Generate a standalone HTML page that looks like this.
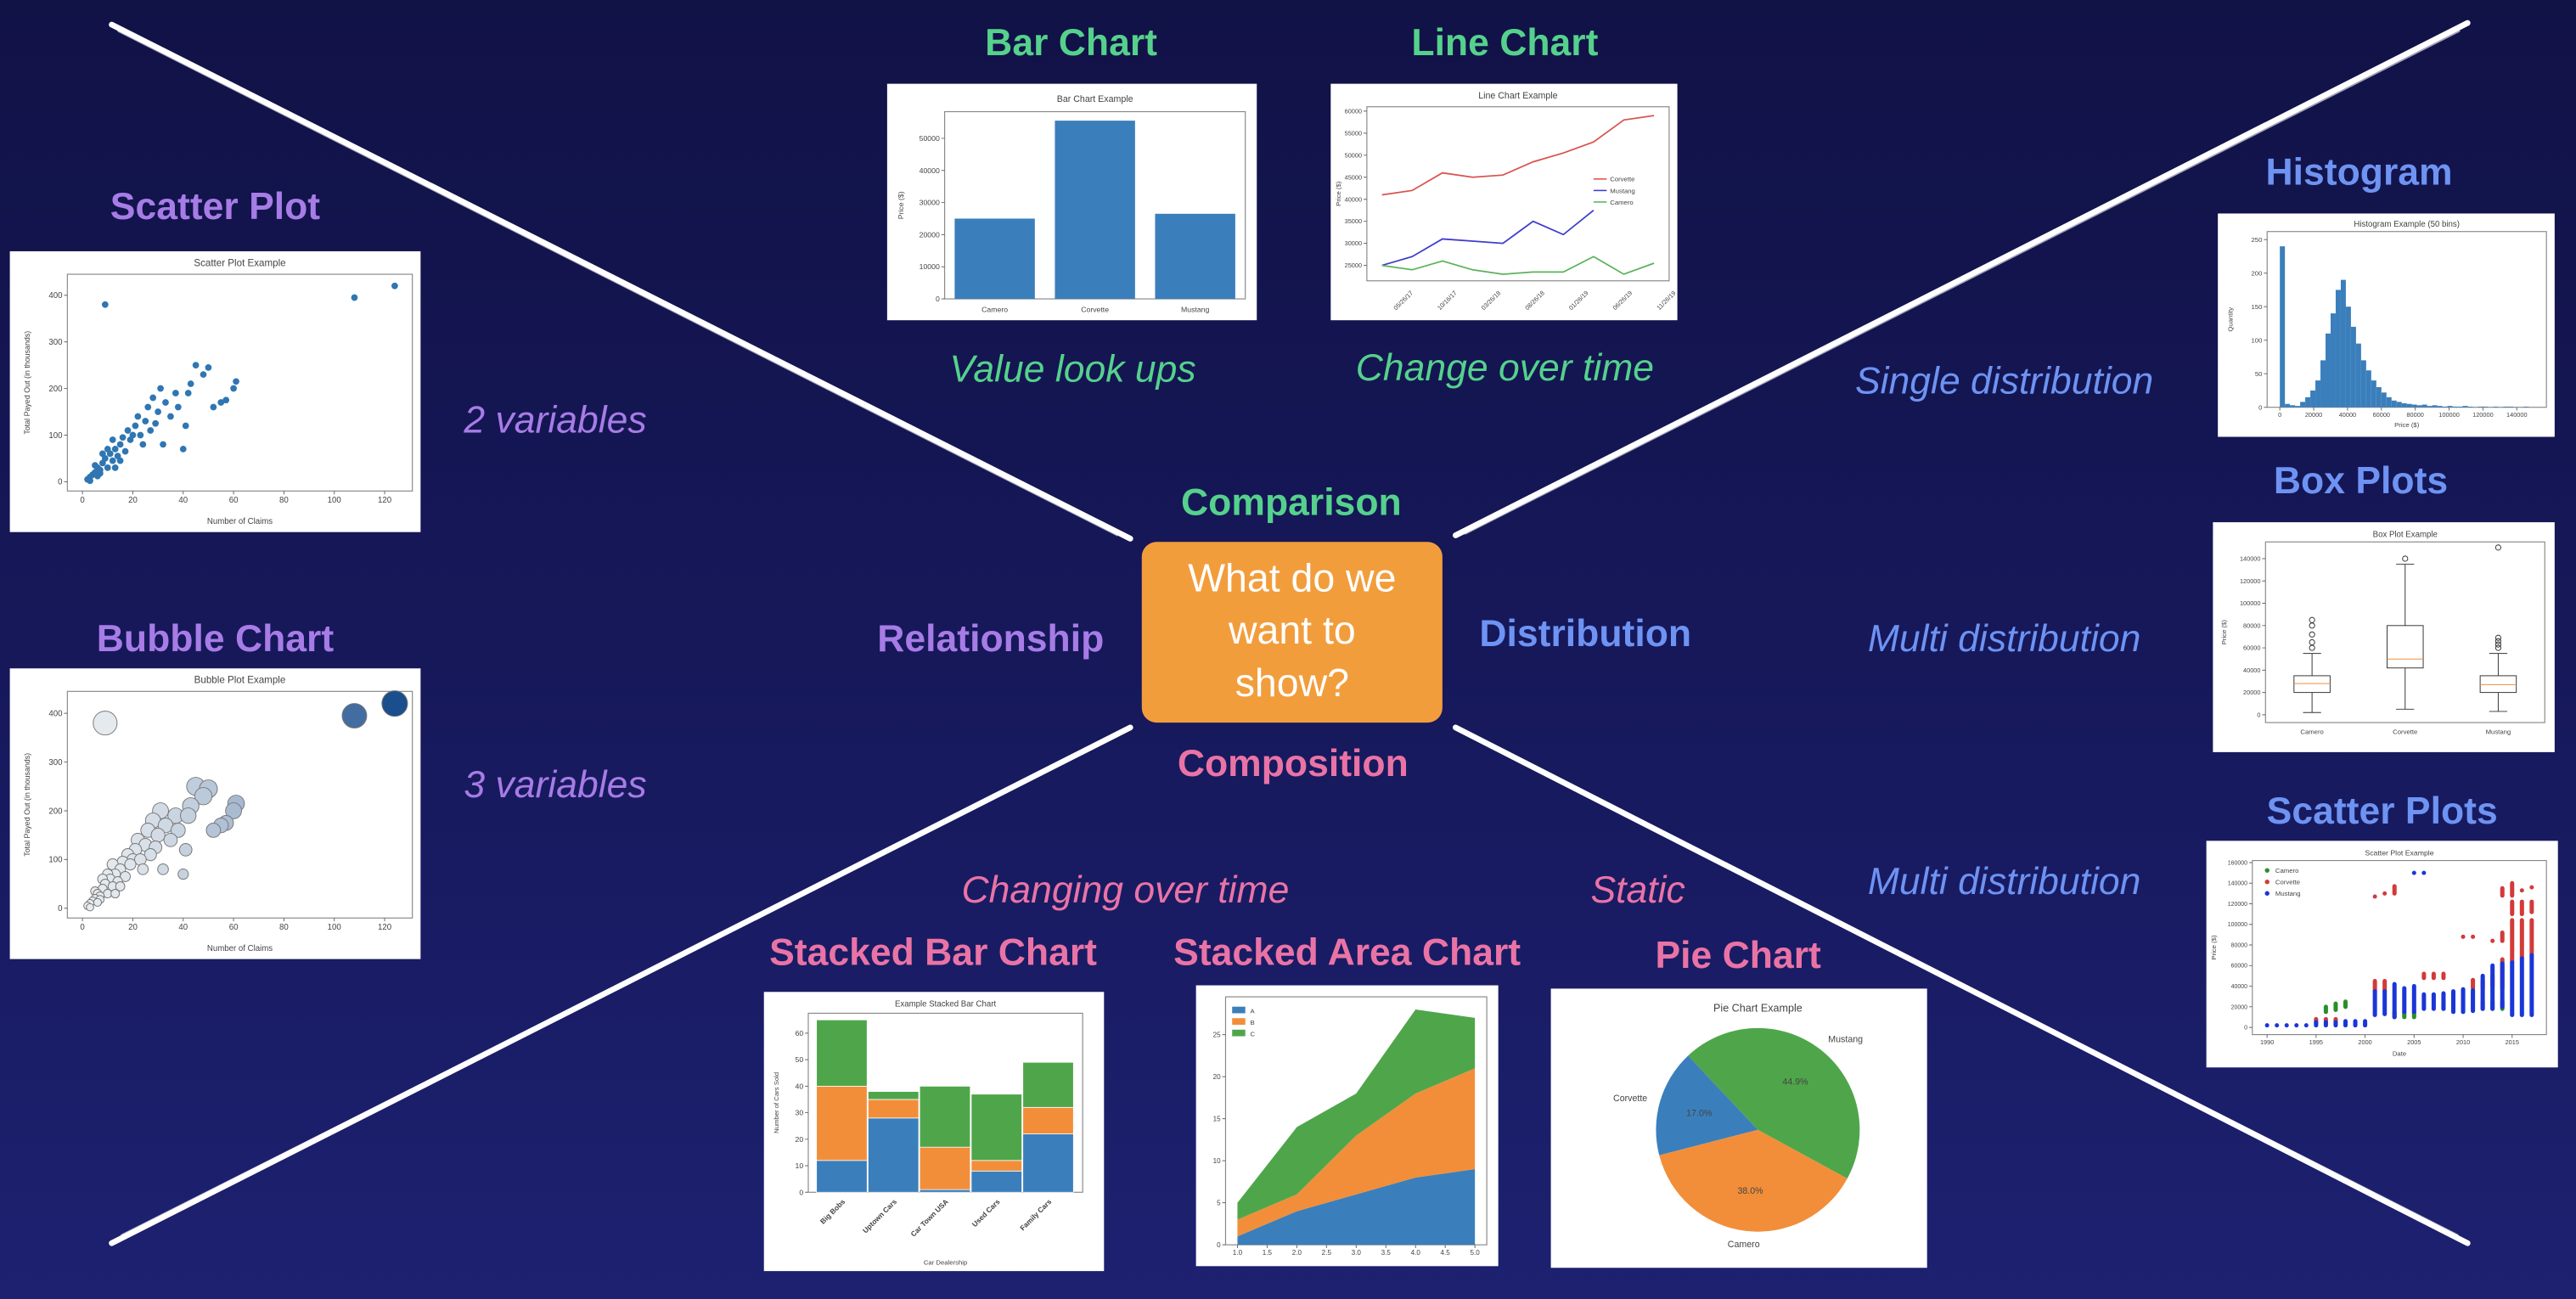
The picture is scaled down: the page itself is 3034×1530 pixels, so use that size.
<!DOCTYPE html>
<html><head><meta charset="utf-8">
<style>
html,body{margin:0;padding:0;}
body{width:3034px;height:1530px;overflow:hidden;background:#15175a;}
#stage{position:absolute;left:0;top:0;width:1568px;height:791px;transform:scale(1.93495,1.93426);transform-origin:0 0;
background:linear-gradient(180deg,#111246 0%,#16185a 50%,#1d2170 100%);font-family:"Liberation Sans",sans-serif;overflow:hidden;}
.t{position:absolute;transform:translate(-50%,-50%);white-space:nowrap;}
.h{font-weight:bold;font-size:23px;}
.i{font-style:italic;font-size:23px;}
.g{color:#55d18c}.p{color:#a77ce6}.b{color:#6e93f2}.k{color:#ea73a6}
.box{position:absolute;background:#fff;}
.box svg{display:block;width:100%;height:100%;}
#center{position:absolute;left:695px;top:330px;width:183px;height:110px;background:#f29d3c;border-radius:9px;color:#fff;font-size:24px;text-align:center;line-height:32px;display:flex;align-items:center;justify-content:center;}
</style></head><body>
<div id="stage">
<svg id="strokes" width="1568" height="791" style="position:absolute;left:0;top:0">
 <g stroke="#fff" stroke-linecap="round">
  <line x1="68" y1="15" x2="688" y2="328" stroke-width="3.5"/>
  <line x1="72" y1="19" x2="680" y2="326" stroke-width="1" opacity=".6"/>
  <line x1="1502" y1="14" x2="886" y2="326" stroke-width="3.5"/>
  <line x1="1497" y1="19" x2="892" y2="325" stroke-width="1" opacity=".6"/>
  <line x1="68" y1="757" x2="688" y2="443" stroke-width="3.5"/>
  <line x1="74" y1="752" x2="682" y2="446" stroke-width="1" opacity=".6"/>
  <line x1="1502" y1="757" x2="886" y2="443" stroke-width="3.5"/>
  <line x1="1496" y1="752" x2="892" y2="446" stroke-width="1" opacity=".6"/>
 </g>
</svg>

<div id="center">What do we<br>want to<br>show?</div>
<div class="t h g" style="left:786px;top:306px">Comparison</div>
<div class="t h p" style="left:603px;top:389px">Relationship</div>
<div class="t h b" style="left:965px;top:386px">Distribution</div>
<div class="t h k" style="left:787px;top:465px">Composition</div>

<div class="t h g" style="left:652px;top:26px">Bar Chart</div>
<div class="t h g" style="left:916px;top:26px">Line Chart</div>
<div class="t h p" style="left:131px;top:126px">Scatter Plot</div>
<div class="t h p" style="left:131px;top:389px">Bubble Chart</div>
<div class="t h b" style="left:1436px;top:105px">Histogram</div>
<div class="t h b" style="left:1437px;top:293px">Box Plots</div>
<div class="t h b" style="left:1450px;top:494px">Scatter Plots</div>
<div class="t h k" style="left:568px;top:580px">Stacked Bar Chart</div>
<div class="t h k" style="left:820px;top:580px">Stacked Area Chart</div>
<div class="t h k" style="left:1058px;top:582px">Pie Chart</div>

<div class="t i g" style="left:653px;top:225px">Value look ups</div>
<div class="t i g" style="left:916px;top:224px">Change over time</div>
<div class="t i p" style="left:338px;top:256px">2 variables</div>
<div class="t i p" style="left:338px;top:478px">3 variables</div>
<div class="t i b" style="left:1220px;top:232px">Single distribution</div>
<div class="t i b" style="left:1220px;top:389px">Multi distribution</div>
<div class="t i b" style="left:1220px;top:537px">Multi distribution</div>
<div class="t i k" style="left:685px;top:542px">Changing over time</div>
<div class="t i k" style="left:997px;top:542px">Static</div>

<div class="box" style="left:540px;top:51px;width:225px;height:144px"><svg id="cBar" viewBox="0 0 225 144"></svg></div>
<div class="box" style="left:810px;top:51px;width:211px;height:144px"><svg id="cLine" viewBox="0 0 211 144"></svg></div>
<div class="box" style="left:6px;top:153px;width:250px;height:171px"><svg id="cScat" viewBox="0 0 250 171"></svg></div>
<div class="box" style="left:6px;top:407px;width:250px;height:177px"><svg id="cBub" viewBox="0 0 250 177"></svg></div>
<div class="box" style="left:1350px;top:130px;width:205px;height:136px"><svg id="cHist" viewBox="0 0 205 136"></svg></div>
<div class="box" style="left:1347px;top:318px;width:208px;height:140px"><svg id="cBox" viewBox="0 0 208 140"></svg></div>
<div class="box" style="left:1343px;top:512px;width:214px;height:138px"><svg id="cMS" viewBox="0 0 214 138"></svg></div>
<div class="box" style="left:465px;top:604px;width:207px;height:170px"><svg id="cSB" viewBox="0 0 207 170"></svg></div>
<div class="box" style="left:728px;top:600px;width:184px;height:171px"><svg id="cSA" viewBox="0 0 184 171"></svg></div>
<div class="box" style="left:944px;top:602px;width:229px;height:170px"><svg id="cPie" viewBox="0 0 229 170"></svg></div>
</div>

<script>
// ---------- data ----------
const barCats=['Camero','Corvette','Mustang'];
const barVals=[25000,55500,26500];
const barTicks=[0,10000,20000,30000,40000,50000];

const lineDates=['05/26/17','10/16/17','03/26/18','08/26/18','01/26/19','06/26/19','11/26/19'];
const lineCorvette=[41000,42000,46000,45000,45500,48500,50500,53000,58000,59000];
const lineMustang=[25000,27000,31000,30500,30000,35000,32000,37500];
const lineCamero=[25000,24000,26000,24000,23000,23500,23500,27000,23000,25500];
const lineTicks=[25000,30000,35000,40000,45000,50000,55000,60000];

const scatX=[2,3,4,5,6,7,8,9,10,11,12,13,14,15,5,8,10,12,13,15,16,18,20,21,22,24,25,26,27,28,30,31,33,35,37,40,41,43,45,48,50,52,55,57,60,61,9,108,124,3,6,7,17,19,23,29,32,38,42];
const scatY=[5,10,15,20,30,25,40,50,30,60,45,70,55,80,35,60,70,90,30,45,95,110,100,120,140,80,130,160,110,180,150,200,170,140,190,70,120,210,250,230,245,160,170,175,200,215,380,395,420,2,12,18,65,90,100,125,80,160,190];
const scatXTicks=[0,20,40,60,80,100,120];
const scatYTicks=[0,100,200,300,400];

const histCounts=[240,5,3,2,8,15,25,40,70,110,140,175,190,150,120,95,70,55,40,30,22,15,10,8,6,5,4,3,4,2,3,2,1,2,1,1,2,1,0,1,1,0,1,0,1,1,0,0,1,0];
const histTicks=[0,20000,40000,60000,80000,100000,120000,140000];
const histYTicks=[0,50,100,150,200,250];

const boxCats=['Camero','Corvette','Mustang'];
const boxMin=[2000,5000,3000];
const boxQ1=[20000,42000,20000];
const boxMed=[28000,50000,27000];
const boxQ3=[35000,80000,35000];
const boxMax=[55000,135000,55000];
const boxOut=[[60000,65000,72000,80000,85000],[140000],[60000,63000,66000,69000,150000]];
const boxTicks=[0,20000,40000,60000,80000,100000,120000,140000];

const msCamero=[[1996,15000,20000],[1997,17000,23000],[1998,20000,25000],[2003,10000,15000],[2004,10000,15000],[2005,10000,15000],[2008,18000,22000],[2012,18000,25000],[2013,18000,25000],[2014,18000,25000],[2014,38000,45000]];
const msCorvette=[[1995,5000,8000],[1996,5000,8000],[1997,5000,8000],[2001,35000,45000],[2001,127000,127000],[2002,35000,45000],[2002,130000,130000],[2003,130000,137000],[2006,48000,52000],[2007,48000,52000],[2008,48000,52000],[2010,88000,88000],[2011,88000,88000],[2011,38000,46000],[2012,38000,45000],[2013,40000,50000],[2013,84000,84000],[2014,45000,66000],[2014,84000,92000],[2014,128000,135000],[2015,63000,104000],[2015,110000,122000],[2015,128000,140000],[2016,67000,104000],[2016,110000,122000],[2016,133000,133000],[2017,70000,104000],[2017,112000,122000],[2017,136000,136000]];
const msMustang=[[1990,2000,2000],[1991,2000,2000],[1992,2000,2000],[1993,2000,2000],[1994,2000,2000],[1995,2000,5000],[1996,2000,5000],[1997,2000,5000],[1998,2000,6000],[1999,2000,6000],[2000,2000,6000],[2001,12000,35000],[2002,13000,35000],[2003,10000,42000],[2004,15000,38000],[2005,15000,40000],[2005,150000,150000],[2006,150000,150000],[2006,18000,32000],[2007,18000,32000],[2008,18000,33000],[2009,15000,35000],[2010,15000,37000],[2011,16000,36000],[2012,18000,50000],[2013,18000,60000],[2014,20000,62000],[2015,12000,63000],[2016,12000,67000],[2017,12000,70000]];
const msXTicks=[1990,1995,2000,2005,2010,2015];
const msYTicks=[0,20000,40000,60000,80000,100000,120000,140000,160000];

const sbCats=['Big Bobs','Uptown Cars','Car Town USA','Used Cars','Family Cars'];
const sbA=[12,28,1,8,22];
const sbB=[28,7,16,4,10];
const sbC=[25,3,23,25,17];
const sbTicks=[0,10,20,30,40,50,60];

const saX=[1,2,3,4,5];
const saA=[1,4,6,8,9];
const saB=[2,2,7,10,12];
const saC=[2,8,5,10,6];
const saXTicks=[1.0,1.5,2.0,2.5,3.0,3.5,4.0,4.5,5.0];
const saYTicks=[0,5,10,15,20,25];

const pieLabels=['Mustang','Corvette','Camero'];
const pieVals=[44.9,17.0,38.0];

// ---------- helpers ----------
const NS='http://www.w3.org/2000/svg';
const BLUE='#3a7fbb',ORANGE='#f28e3a',GREEN='#4fa64a',AX='#666',TX='#444';
function el(tag,parent,attrs){const e=document.createElementNS(NS,tag);for(const k in attrs)e.setAttribute(k,attrs[k]);parent.appendChild(e);return e;}
function lin(d0,d1,r0,r1){return v=>r0+(v-d0)/(d1-d0)*(r1-r0);}
function txt(p,x,y,s,size,anchor,extra){const t=el('text',p,Object.assign({x:x,y:y,'font-size':size,'text-anchor':anchor||'middle',fill:TX,'font-family':'Liberation Sans, sans-serif'},extra||{}));t.textContent=s;return t;}
function frame(p,x0,y0,x1,y1){el('rect',p,{x:x0,y:y0,width:x1-x0,height:y1-y0,fill:'none',stroke:'#888','stroke-width':0.6});}
function yTicks(p,ticks,ys,x0,size,fmt){ticks.forEach(v=>{el('line',p,{x1:x0-2,x2:x0,y1:ys(v),y2:ys(v),stroke:AX,'stroke-width':0.5});txt(p,x0-3,ys(v)+size*0.35,fmt?fmt(v):String(v),size,'end');});}
function xTicks(p,ticks,xs,y0,size,fmt){ticks.forEach(v=>{el('line',p,{x1:xs(v),x2:xs(v),y1:y0,y2:y0+2,stroke:AX,'stroke-width':0.5});txt(p,xs(v),y0+2+size,fmt?fmt(v):String(v),size);});}

// ---------- bar chart ----------
(function(){const s=document.getElementById('cBar');
const x0=35,x1=218,y0=17,y1=131;const ys=lin(0,58300,y1,y0);const bw=(x1-x0)/barCats.length;
txt(s,(x0+x1)/2,11,'Bar Chart Example',5.5);frame(s,x0,y0,x1,y1);yTicks(s,barTicks,ys,x0,4.5);
txt(s,10,(y0+y1)/2,'Price ($)',4.5,'middle',{transform:`rotate(-90 10 ${(y0+y1)/2})`});
barCats.forEach((c,i)=>{const cx=x0+bw*(i+0.5);const r=el('rect',s,{x:cx-bw*0.4,y:ys(barVals[i]),width:bw*0.8,height:y1-ys(barVals[i]),fill:BLUE});


txt(s,cx,y1+8,c,4.5);});})();

// ---------- line chart ----------
(function(){const s=document.getElementById('cLine');
const x0=22,x1=206,y0=14,y1=120;const ys=lin(21500,61000,y1,y0);const xs=lin(-0.5,9.5,x0,x1);
txt(s,(x0+x1)/2,9,'Line Chart Example',5.5);frame(s,x0,y0,x1,y1);yTicks(s,lineTicks,ys,x0,3.8);
txt(s,6,(y0+y1)/2,'Price ($)',4,'middle',{transform:`rotate(-90 6 ${(y0+y1)/2})`});
lineDates.forEach((d,i)=>{const x=xs(0.6+i*1.45);txt(s,x,y1+14,d,3.8,'middle',{transform:`rotate(-45 ${x} ${y1+10})`});});
[[lineCorvette,'#d9534f','Corvette'],[lineMustang,'#3d3dcc','Mustang'],[lineCamero,'#5bb35b','Camero']].forEach(([arr,col,n],k)=>{
const pl=el('polyline',s,{points:arr.map((v,i)=>xs(i)+','+ys(v)).join(' '),fill:'none',stroke:col,'stroke-width':0.9});


el('line',s,{x1:160,x2:168,y1:58+k*7,y2:58+k*7,stroke:col,'stroke-width':0.8});txt(s,170,59.5+k*7,n,4,'start');});})();

// ---------- scatter ----------
function scatterAxes(s,h,title){const x0=35,x1=245,y0=14,y1=h-25;const xs=lin(-6,131,x0,x1),ys=lin(-20,445,y1,y0);
txt(s,(x0+x1)/2,9,title,6);frame(s,x0,y0,x1,y1);yTicks(s,scatYTicks,ys,x0,5);xTicks(s,scatXTicks,xs,y1,5);
txt(s,(x0+x1)/2,h-5,'Number of Claims',5);txt(s,12,(y0+y1)/2,'Total Payed Out (in thousands)',4.6,'middle',{transform:`rotate(-90 12 ${(y0+y1)/2})`});return [xs,ys];}
(function(){const s=document.getElementById('cScat');const [xs,ys]=scatterAxes(s,171,'Scatter Plot Example');
scatX.forEach((x,i)=>{const c=el('circle',s,{cx:xs(x),cy:ys(scatY[i]),r:2,fill:'#2f76b2'});

});})();
(function(){const s=document.getElementById('cBub');const [xs,ys]=scatterAxes(s,177,'Bubble Plot Example');
const idx=scatX.map((x,i)=>i).sort((a,b)=>scatY[b]-scatY[a]);
idx.forEach(i=>{const x=scatX[i];const t=Math.pow(Math.min(x/124,1),1.6);
const r0=Math.round(232-t*206),g0=Math.round(236-t*158),b0=Math.round(240-t*100);
const c=el('circle',s,{cx:xs(x),cy:ys(scatY[i]),r:2.2+scatY[i]/75,fill:`rgb(${r0},${g0},${b0})`,stroke:'#777','stroke-width':0.5});

});})();

// ---------- histogram ----------
(function(){const s=document.getElementById('cHist');const x0=30,x1=200,y0=11,y1=118;
const xs=lin(-7500,157500,x0,x1),ys=lin(0,262,y1,y0);
txt(s,(x0+x1)/2,8,'Histogram Example (50 bins)',5);frame(s,x0,y0,x1,y1);yTicks(s,histYTicks,ys,x0,4);xTicks(s,histTicks,xs,y1,3.8);
txt(s,(x0+x1)/2,y1+12,'Price ($)',4);txt(s,9,(y0+y1)/2,'Quantity',4,'middle',{transform:`rotate(-90 9 ${(y0+y1)/2})`});
const bw=3000;histCounts.forEach((c,i)=>{if(!c)return;const r=el('rect',s,{x:xs(i*bw),y:ys(c),width:xs(bw)-xs(0),height:y1-ys(c),fill:BLUE});

});})();

// ---------- box plot ----------
(function(){const s=document.getElementById('cBox');const x0=32,x1=202,y0=12,y1=122;
const ys=lin(-7000,155000,y1,y0);const bw=(x1-x0)/3;
txt(s,(x0+x1)/2,9,'Box Plot Example',5);frame(s,x0,y0,x1,y1);yTicks(s,boxTicks,ys,x0,3.8);
txt(s,8,(y0+y1)/2,'Price ($)',4,'middle',{transform:`rotate(-90 8 ${(y0+y1)/2})`});
boxCats.forEach((c,i)=>{const cx=x0+bw*(i+0.5),w=11;const g=el('g',s,{stroke:'#333','stroke-width':0.5,fill:'none'});


el('rect',g,{x:cx-w,y:ys(boxQ3[i]),width:2*w,height:ys(boxQ1[i])-ys(boxQ3[i])});
el('line',g,{x1:cx-w,x2:cx+w,y1:ys(boxMed[i]),y2:ys(boxMed[i]),stroke:'#f28e3a'});
el('line',g,{x1:cx,x2:cx,y1:ys(boxQ3[i]),y2:ys(boxMax[i])});el('line',g,{x1:cx,x2:cx,y1:ys(boxQ1[i]),y2:ys(boxMin[i])});
el('line',g,{x1:cx-w/2,x2:cx+w/2,y1:ys(boxMax[i]),y2:ys(boxMax[i])});el('line',g,{x1:cx-w/2,x2:cx+w/2,y1:ys(boxMin[i]),y2:ys(boxMin[i])});
boxOut[i].forEach(v=>el('circle',g,{cx:cx,cy:ys(v),r:1.6}));
txt(s,cx,y1+7,c,4);});})();

// ---------- multi scatter ----------
(function(){const s=document.getElementById('cMS');const x0=28,x1=207,y0=12,y1=118;
const xs=lin(1988.5,2018.5,x0,x1),ys=lin(-7000,162000,y1,y0);
txt(s,(x0+x1)/2,9,'Scatter Plot Example',4.5);frame(s,x0,y0,x1,y1);yTicks(s,msYTicks,ys,x0,3.6);xTicks(s,msXTicks,xs,y1,3.8);
txt(s,(x0+x1)/2,y1+13,'Date',4);txt(s,6,(y0+y1)/2,'Price ($)',4,'middle',{transform:`rotate(-90 6 ${(y0+y1)/2})`});
[[msCamero,'#2a8f2a','Camero'],[msCorvette,'#d23a3a','Corvette'],[msMustang,'#1a36d8','Mustang']].forEach(([arr,col,n],k)=>{
arr.forEach(([yr,lo,hi])=>{const l=el('line',s,{x1:xs(yr),x2:xs(yr),y1:ys(lo),y2:ys(hi),stroke:col,'stroke-width':2.6,'stroke-linecap':'round'});

});
el('circle',s,{cx:37,cy:18+k*7,r:1.4,fill:col});txt(s,42,19.5+k*7,n,4,'start');});})();

// ---------- stacked bar ----------
(function(){const s=document.getElementById('cSB');const x0=27,x1=194,y0=13,y1=122;
const ys=lin(0,67.5,y1,y0);const bw=(x1-x0-10)/5;
txt(s,(x0+x1)/2,9,'Example Stacked Bar Chart',5);frame(s,x0,y0,x1,y1);yTicks(s,sbTicks,ys,x0,4.5);
txt(s,(x0+x1)/2,y1+44,'Car Dealership',4);txt(s,9,(y0+y1)/2,'Number of Cars Sold',4,'middle',{transform:`rotate(-90 9 ${(y0+y1)/2})`});
sbCats.forEach((c,i)=>{const xl=x0+5+bw*i;let base=0;
[[sbA,BLUE],[sbB,ORANGE],[sbC,GREEN]].forEach(([arr,col])=>{const v=arr[i];const r=el('rect',s,{x:xl,y:ys(base+v),width:bw-0.6,height:ys(base)-ys(base+v),fill:col,stroke:'#fff','stroke-width':0.4});

base+=v;});
const cx=xl+bw/2;txt(s,cx+2,y1+6,c,4.4,'end',{'font-weight':'bold',transform:`rotate(-45 ${cx+2} ${y1+6})`});});})();

// ---------- stacked area ----------
(function(){const s=document.getElementById('cSA');const x0=18,x1=177,y0=7,y1=158;
const xs=lin(0.8,5.2,x0,x1),ys=lin(0,29.5,y1,y0);
frame(s,x0,y0,x1,y1);yTicks(s,saYTicks,ys,x0,4.2);xTicks(s,saXTicks,xs,y1,4.2,v=>v.toFixed(1));
let prev=saX.map(()=>0);
[[saA,BLUE,'A'],[saB,ORANGE,'B'],[saC,GREEN,'C']].forEach(([arr,col,n],k)=>{const top=arr.map((v,i)=>prev[i]+v);
const pts=saX.map((x,i)=>xs(x)+','+ys(top[i])).concat(saX.slice().reverse().map((x,j)=>xs(x)+','+ys(prev[saX.length-1-j])));
const p=el('polygon',s,{points:pts.join(' '),fill:col});


prev=top;el('rect',s,{x:22,y:13+k*7,width:8,height:4,fill:col});txt(s,33,17+k*7,n,4,'start');});})();

// ---------- pie ----------
(function(){const s=document.getElementById('cPie');const cx=126,cy=86,r=62;
txt(s,cx,14,'Pie Chart Example',6.5);
const cols=[GREEN,BLUE,ORANGE];const tot=pieVals.reduce((a,b)=>a+b,0);let a=-28.6;
pieVals.forEach((v,i)=>{const a2=a+v/tot*360;const r1=a*Math.PI/180,r2=a2*Math.PI/180;
const p=el('path',s,{d:`M${cx},${cy} L${cx+r*Math.cos(r1)},${cy-r*Math.sin(r1)} A${r},${r} 0 ${a2-a>180?1:0} 0 ${cx+r*Math.cos(r2)},${cy-r*Math.sin(r2)} Z`,fill:cols[i]});


const m=(a+a2)/2*Math.PI/180;txt(s,cx+r*0.6*Math.cos(m),cy-r*0.6*Math.sin(m)+2,v.toFixed(1)+'%',5.5);
const lx=cx+r*1.13*Math.cos(m),ly=cy-r*1.13*Math.sin(m);txt(s,lx,ly+2,pieLabels[i],5.5,Math.cos(m)>0.2?'start':(Math.cos(m)<-0.2?'end':'middle'));
a=a2;});})();
</script>
</body></html>
